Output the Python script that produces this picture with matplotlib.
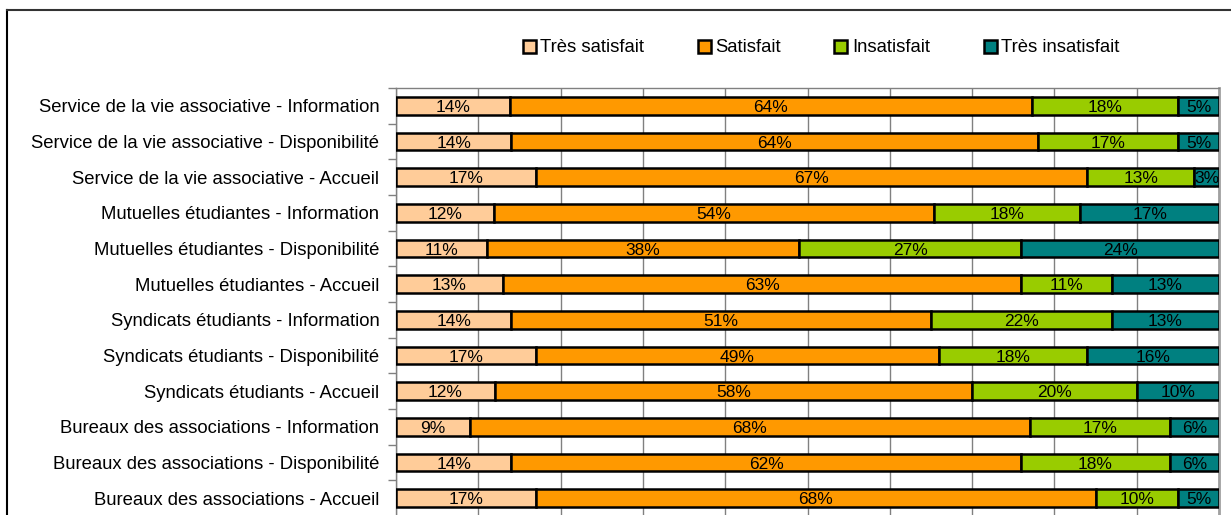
import matplotlib.pyplot as plt
import numpy as np
from matplotlib.lines import Line2D

plt.rcParams['font.family'] = ['Liberation Sans', 'DejaVu Sans']

# categories, top to bottom
categories = [
    "Service de la vie associative - Information",
    "Service de la vie associative - Disponibilité",
    "Service de la vie associative - Accueil",
    "Mutuelles étudiantes - Information",
    "Mutuelles étudiantes - Disponibilité",
    "Mutuelles étudiantes - Accueil",
    "Syndicats étudiants - Information",
    "Syndicats étudiants - Disponibilité",
    "Syndicats étudiants - Accueil",
    "Bureaux des associations - Information",
    "Bureaux des associations - Disponibilité",
    "Bureaux des associations - Accueil",
]
series_names = ["Très satisfait", "Satisfait", "Insatisfait", "Très insatisfait"]
tres_satisfait = [14, 14, 17, 12, 11, 13, 14, 17, 12, 9, 14, 17]
satisfait = [64, 64, 67, 54, 38, 63, 51, 49, 58, 68, 62, 68]
insatisfait = [18, 17, 13, 18, 27, 11, 22, 18, 20, 17, 18, 10]
tres_insatisfait = [5, 5, 3, 17, 24, 13, 13, 16, 10, 6, 6, 5]
colors = ["#FFCC99", "#FF9900", "#99CC00", "#008080"]

data = np.array([tres_satisfait, satisfait, insatisfait, tres_insatisfait], dtype=float)
shares = data / data.sum(axis=0)  # 100% stacked

fig = plt.figure(figsize=(12.31, 5.15), dpi=100)
ax = fig.add_axes([396 / 1231, -0.002, 823 / 1231, 0.831])

y = np.arange(len(categories))
left = np.zeros(len(categories))
for i, name in enumerate(series_names):
    bars = ax.barh(y, shares[i], left=left, height=0.5, color=colors[i],
                   edgecolor="black", linewidth=1.8, label=name, zorder=3)
    for j, b in enumerate(bars):
        ax.text(left[j] + shares[i][j] / 2, y[j], f"{int(data[i][j])}%",
                ha="center", va="center_baseline", fontsize=12.5, zorder=4)
    left += shares[i]

ax.set_xlim(0, 1)
ax.set_ylim(len(categories) - 0.5, -0.5)
ax.set_xticks(np.arange(0, 1.01, 0.1))
ax.tick_params(axis="x", length=0, labelbottom=False)
ax.grid(axis="x", color="#808080", linewidth=1, zorder=0)

ax.set_yticks(y)
ax.set_yticklabels(categories, fontsize=13.3)
ax.set_yticks(np.arange(-0.5, len(categories), 1), minor=True)
ax.tick_params(axis="y", which="major", length=0, pad=12)
ax.tick_params(axis="y", which="minor", length=6, color="#808080", width=1)

for s in ax.spines.values():
    s.set_color("#808080")
    s.set_linewidth(1)
ax.spines["right"].set_linewidth(2)
ax.spines["right"].set_color("#A0A0A0")

fig.legend(loc="center", bbox_to_anchor=(0.667, 1 - 48 / 515), ncol=4,
           frameon=False, fontsize=13.3, handlelength=0.7, handleheight=0.7,
           handletextpad=0.25, columnspacing=2.9)

# outer chart frame
fig.add_artist(Line2D([7 / 1231, 7 / 1231], [0, 1 - 10 / 515], color="black",
                      linewidth=1.5, transform=fig.transFigure))
fig.add_artist(Line2D([7 / 1231, 1], [1 - 10 / 515, 1 - 10 / 515], color="#333333",
                      linewidth=1.5, transform=fig.transFigure))

fig.savefig("out.png", dpi=100)
